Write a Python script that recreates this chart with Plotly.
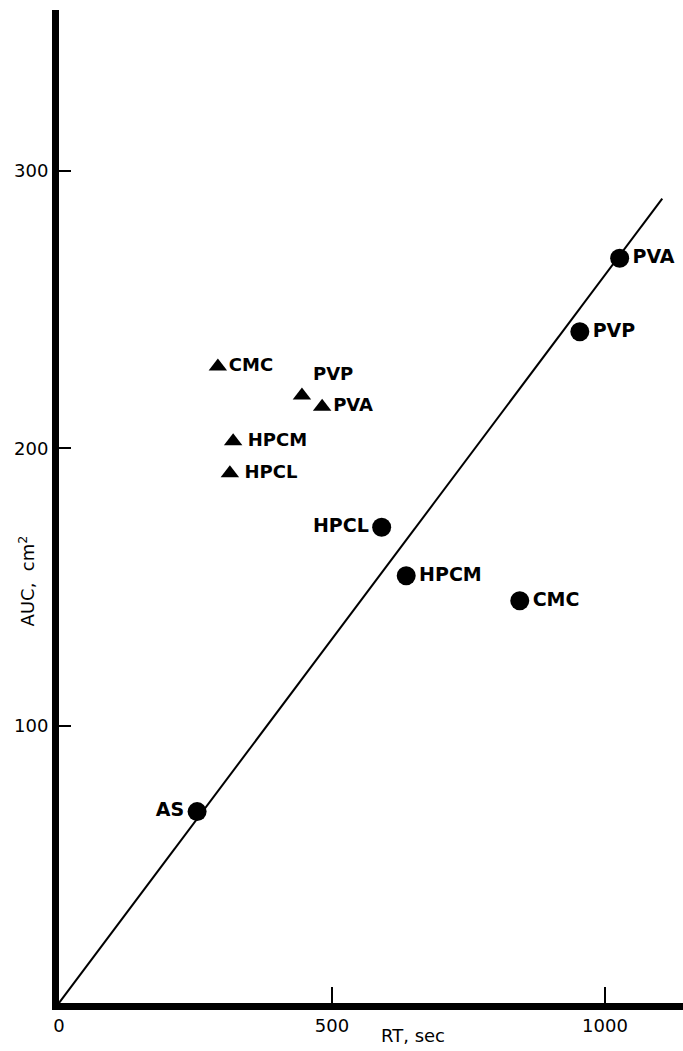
import plotly.graph_objects as go

# Polymer series: retention time (s) vs. area under curve (cm^2)
circle_names = ["AS", "HPCL", "HPCM", "CMC", "PVP", "PVA"]
circle_rt = [253, 591, 636, 844, 954, 1027]
circle_auc = [69, 171.5, 154, 145, 242, 268.5]
circle_textpos = ["middle left", "middle left", "middle right", "middle right", "middle right", "middle right"]

triangle_names = ["CMC", "PVP", "PVA", "HPCM", "HPCL"]
triangle_rt = [291, 445, 482, 319, 313]
triangle_auc = [229.5, 219, 215, 202.5, 191]
triangle_textpos = ["middle right", "top right", "middle right", "middle right", "middle right"]

# Regression line through the origin
line_rt = [0, 1105]
line_auc = [0, 290]

x_ticks = [0, 500, 1000]
y_ticks = [100, 200, 300]

FONT = "DejaVu Sans, Liberation Sans, sans-serif"

fig = go.Figure()

fig.add_trace(go.Scatter(
    x=line_rt, y=line_auc, mode="lines",
    line=dict(color="black", width=2), hoverinfo="skip", showlegend=False,
))

fig.add_trace(go.Scatter(
    x=circle_rt, y=circle_auc, mode="markers+text",
    marker=dict(symbol="circle", size=19, color="black"),
    text=["<b>" + n + "</b>" for n in circle_names],
    textposition=circle_textpos,
    textfont=dict(family=FONT, size=19, color="black"),
    showlegend=False,
))

fig.add_trace(go.Scatter(
    x=triangle_rt, y=triangle_auc, mode="markers+text",
    marker=dict(symbol="triangle-up", size=16, color="black"),
    text=["<b>" + ("\u2009" if n in ("HPCM", "HPCL") else "") + n + "</b>" for n in triangle_names],
    textposition=triangle_textpos,
    textfont=dict(family=FONT, size=18, color="black"),
    showlegend=False,
))

fig.update_xaxes(
    range=[0, 1143], tickvals=x_ticks, ticktext=[str(v) for v in x_ticks],
    ticks="inside", ticklen=16, tickwidth=2, tickcolor="black",
    showline=True, linewidth=7, linecolor="black",
    showgrid=False, zeroline=False,
    tickfont=dict(family=FONT, size=18, color="black"),
)
fig.update_yaxes(
    range=[0, 358], tickvals=y_ticks, ticktext=[str(v) for v in y_ticks],
    ticks="inside", ticklen=12, tickwidth=2, tickcolor="black",
    showline=True, linewidth=7, linecolor="black",
    showgrid=False, zeroline=False,
    tickfont=dict(family=FONT, size=18, color="black"),
)

fig.add_annotation(
    text="RT, sec", xref="x", yref="paper", x=648, y=0, yshift=-45,
    showarrow=False, font=dict(family=FONT, size=18, color="black"),
)
fig.add_annotation(
    text="AUC,  cm<sup>2</sup>", xref="paper", yref="y", x=0, y=152, xshift=-46,
    textangle=-90, showarrow=False, font=dict(family=FONT, size=18, color="black"),
)

fig.update_layout(
    width=683, height=1051,
    margin=dict(l=59, r=0, t=10, b=48),
    paper_bgcolor="white", plot_bgcolor="white",
)

fig.write_html("out.html")
